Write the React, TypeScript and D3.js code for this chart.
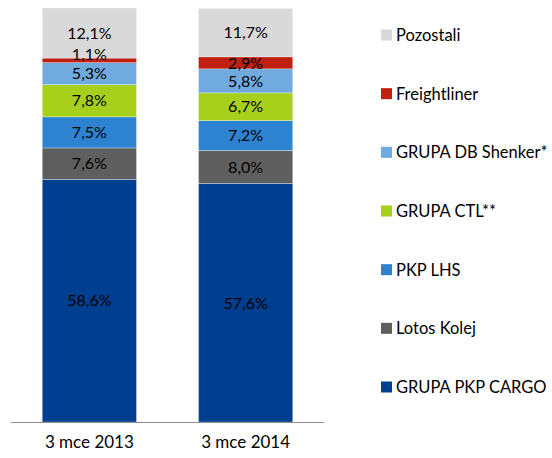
import React from "react";
import * as d3 from "d3";

const categories = ["3 mce 2013", "3 mce 2014"];
const seriesNames = [
  "GRUPA PKP CARGO",
  "Lotos Kolej",
  "PKP LHS",
  "GRUPA CTL**",
  "GRUPA DB Shenker*",
  "Freightliner",
  "Pozostali",
];
const values2013 = [58.6, 7.6, 7.5, 7.8, 5.3, 1.1, 12.1];
const values2014 = [57.6, 8.0, 7.2, 6.7, 5.8, 2.9, 11.7];
const colors = ["#003F90", "#5F5F5F", "#2E83D0", "#A6D01C", "#70AADF", "#C0200F", "#D9D9D9"];

const W = 552;
const H = 458;
const FONT = "Lato, 'Open Sans', sans-serif";

export default function App() {
  const x = d3.scaleBand<string>().domain(categories).range([11, 324]).paddingInner(0.397).paddingOuter(0.2);
  const y = d3.scaleLinear().domain([0, 100]).range([422, 8]);
  const allValues = [values2013, values2014];
  const fmt = (v: number) => v.toFixed(1).replace(".", ",") + "%";

  const legendY = d3.scalePoint<string>().domain([...seriesNames].reverse()).range([35, 387]);

  return (
    <svg width={W} height={H} style={{ position: "absolute", left: 0, top: 0, background: "#fff" }} fontFamily={FONT}>
      {categories.map((cat, ci) => {
        const vals = allValues[ci];
        let cum = 0;
        return (
          <g key={cat}>
            {vals.map((v, si) => {
              const y0 = cum;
              cum += v;
              const top = y(cum);
              const bot = y(y0);
              return (
                <rect key={si} x={x(cat)} y={top} width={x.bandwidth()} height={bot - top} fill={colors[si]} stroke="#ffffff" strokeOpacity={0.5} strokeWidth={0.6} />
              );
            })}
          </g>
        );
      })}
      {categories.map((cat, ci) => {
        const vals = allValues[ci];
        let cum = 0;
        return (
          <g key={cat + "-labels"}>
            {vals.map((v, si) => {
              const y0 = cum;
              cum += v;
              const top = y(cum);
              const bot = y(y0);
              const nudge = bot - top < 8 ? -6 : 0;
              return (
                <text key={si} x={(x(cat) as number) + x.bandwidth() / 2} y={(top + bot) / 2 + nudge} dy="0.36em" textAnchor="middle" fontSize={16} fill="#000">
                  {fmt(v)}
                </text>
              );
            })}
          </g>
        );
      })}
      <line x1={11} x2={324} y1={422.5} y2={422.5} stroke="#8c8c8c" strokeWidth={1} />
      {categories.map((cat) => (
        <text key={cat} x={(x(cat) as number) + x.bandwidth() / 2} y={448} textAnchor="middle" fontSize={17} fill="#000">
          {cat}
        </text>
      ))}
      {seriesNames.map((name, si) => {
        const cy = legendY(name) as number;
        return (
          <g key={name}>
            <rect x={381} y={cy - 5.5} width={11} height={11} fill={colors[si]} />
            <text x={396} y={cy} dy="0.36em" fontSize={16.5} fill="#000">
              {name}
            </text>
          </g>
        );
      })}
    </svg>
  );
}
